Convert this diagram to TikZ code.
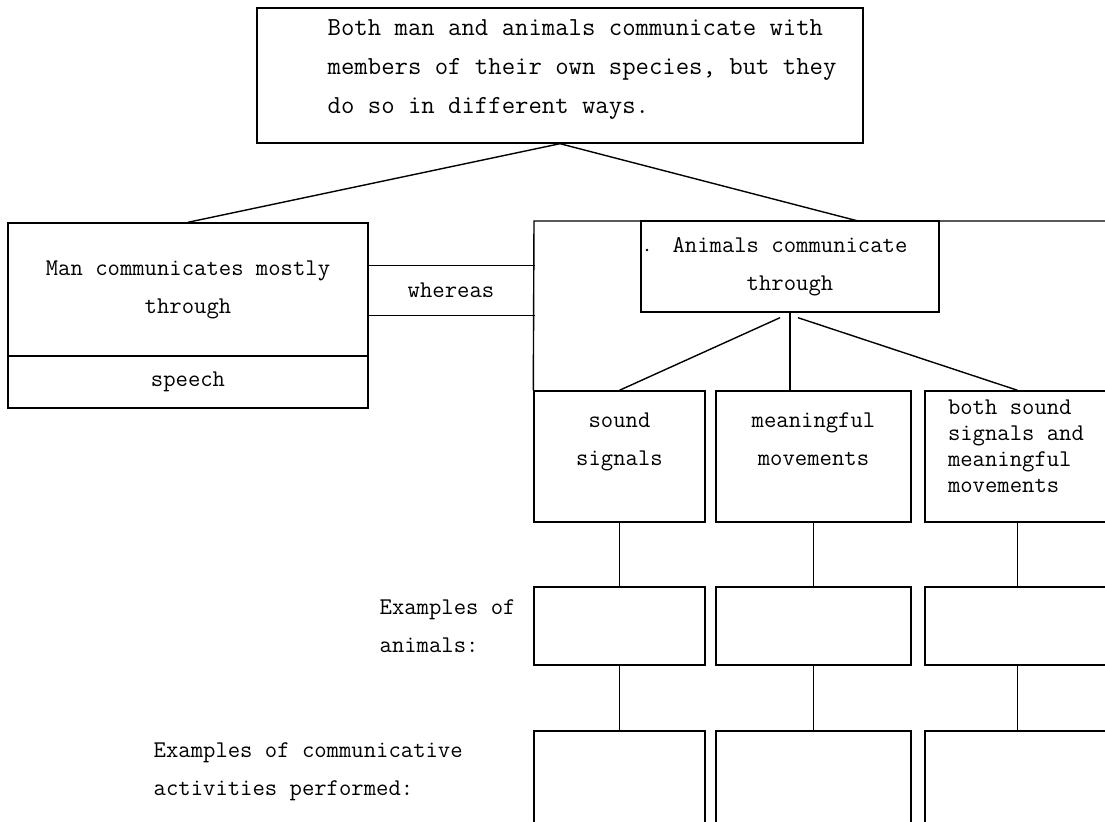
\documentclass[tikz,border=0pt]{standalone}
\usepackage{fontspec}
\usetikzlibrary{calc, positioning}

\begin{document}
\begin{tikzpicture}[x=0.5pt, y=-0.5pt, line width=0.7pt,
  box/.style={draw, inner sep=0pt, align=center, font=\fontsize{12}{19}\ttfamily},
  txt/.style={inner sep=0pt, font=\fontsize{12}{19}\ttfamily}]
\useasboundingbox (0,0) rectangle (1105,822);
\clip (0,0) rectangle (1105,822);

% Statement at the top
\node[box, minimum width=303pt, minimum height=67.5pt] (top) at (560,75.5) {};
\node[txt, anchor=west, align=left, font=\fontsize{13}{19.5}\ttfamily] (toptext) at (327,70)
  {Both man and animals communicate with\\members of their own species, but they\\do so in different ways.};

% Man side
\node[box, minimum width=180pt, minimum height=66.5pt] (man) at (188,289.5) {Man communicates mostly\\through};
\node[box, minimum width=180pt, minimum height=26pt] (speech) at (188,382) {speech};

% Link word
\node[txt, minimum width=83pt, minimum height=24.5pt] (whereas) at (451,290.5) {whereas};
\draw (whereas.north west) -- (whereas.north east) (whereas.south west) -- (whereas.south east);

% Animal side
\node[box, minimum width=149pt, minimum height=45.5pt] (animals) at (790,266.5) {Animals communicate\\through};
\fill (647,250) circle (0.7pt);

% Columns: ways, examples of animals, examples of activities
\foreach \i/\x/\w in {1/619.5/85.5, 2/813.5/97.5, 3/1017.5/92.5} {
  \node[box, minimum width=\w pt, minimum height=65.5pt] (way\i) at (\x,456.5) {};
  \node[box, minimum width=\w pt, minimum height=39pt] (ani\i) at (\x,626) {};
  \node[box, minimum width=\w pt, minimum height=54.5pt] (act\i) at (\x,785.5) {};
  \draw (way\i) -- (ani\i) (ani\i) -- (act\i);
}

\node[txt, align=center, below=11pt of way1.north] (soundtxt) {sound\\signals};
\node[txt, align=center, below=11pt of way2.north] (movtxt) {meaningful\\movements};
\node[txt, align=left, anchor=north west, font=\fontsize{12}{13}\ttfamily] (bothtxt)
  at ($(way3.north west)+(23,9)$) {both sound\\signals and\\meaningful\\movements};

% Frame round the animal side
\coordinate (frame) at (534,221);
\coordinate (frameend) at (1110,221);
\coordinate (hit) at (858,221);
\draw (way1.north west) -- (frame) -- (frameend);

% Connectors
\draw (man.north) -- (top.south) -- (hit);
\draw ($(animals.south)+(-10,5)$) -- (way1.north);
\draw (animals.south) -- (animals.south |- way2.north);
\draw ($(animals.south)+(8,5)$) -- (way3.north);

% Row labels
\node[txt, align=left, left=8.5pt of ani1] (anilabel) {Examples of\\animals:};
\node[txt, align=left, anchor=west] (actlabel) at (153,771.5) {Examples of communicative\\activities performed:};
\end{tikzpicture}
\end{document}
